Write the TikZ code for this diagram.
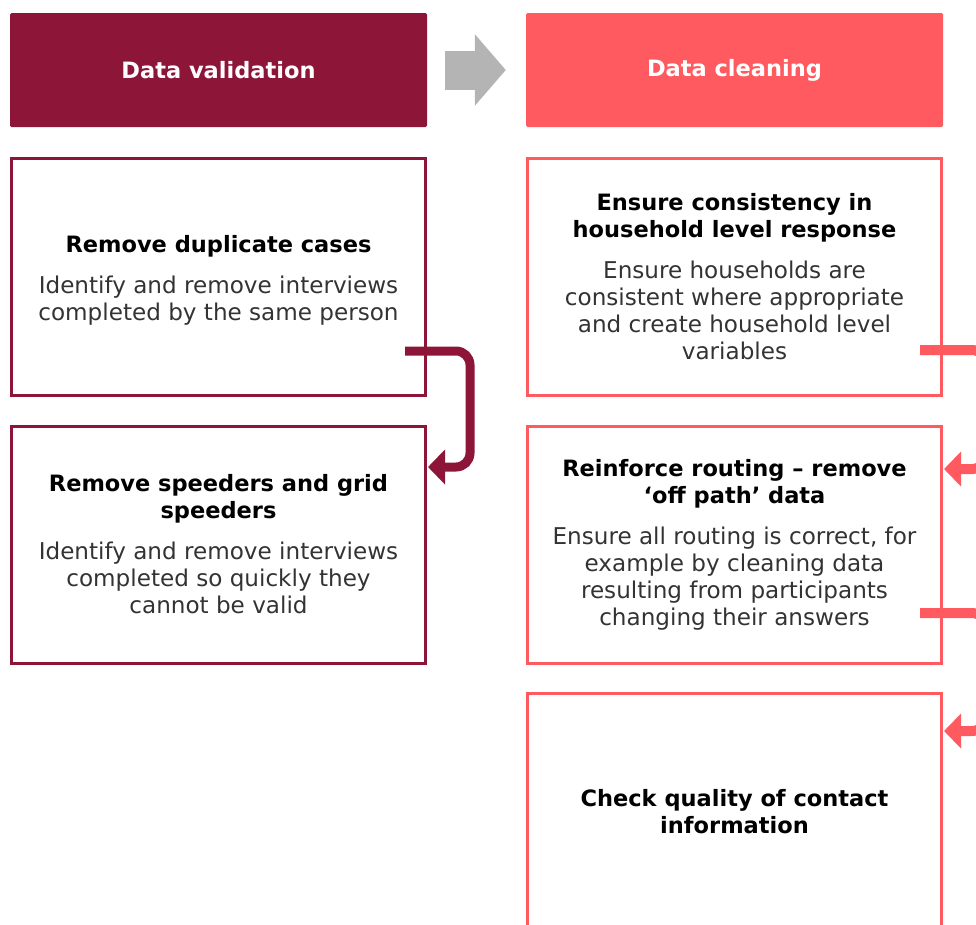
\documentclass[tikz,border=0pt]{standalone}
\usepackage{fontspec}
\setmainfont{DejaVu Sans}
\usetikzlibrary{arrows.meta,positioning}

\definecolor{valred}{HTML}{8C1538}
\definecolor{clnred}{HTML}{FF5A5F}
\definecolor{stepgrey}{HTML}{B4B4B4}
\definecolor{bodygrey}{HTML}{333333}

\newcommand{\bodyfont}{\fontsize{23.1}{27}\selectfont}
\newcommand{\titlefont}{\fontsize{22.5}{27}\selectfont\bfseries}
\newcommand{\tasktitle}[1]{{\titlefont\color{black}#1}}

\tikzstyle{head}=[rectangle,rounded corners=1.5pt,minimum width=417pt,minimum height=114pt,text=white,font=\titlefont]
\tikzstyle{task}=[rectangle,draw,line width=3pt,minimum width=414pt,minimum height=237pt,align=center,inner sep=0pt,text=bodygrey,font=\bodyfont]
\tikzstyle{flow}=[line width=9pt,rounded corners=14pt,-{Triangle[length=17pt,width=34pt]}]

\begin{document}
\begin{tikzpicture}[x=1pt,y=-1pt]

\path[use as bounding box] (0,0) rectangle (976,924);
\clip (0,0) rectangle (976,924);

% headers
\node[head,fill=valred] (valhead) at (218.5,70) {Data validation};
\node[head,fill=clnred] (clnhead) at (734.5,70) {Data cleaning};

\draw[line width=39pt,stepgrey,-{Triangle[length=31pt,width=70pt]}]
  ([xshift=18pt]valhead.east) -- ([xshift=-20pt]clnhead.west);

% data validation
\node[task,draw=valred] (dup) at (218.5,276.5)
  {\mbox{}\\[-2pt]\tasktitle{Remove duplicate cases}\\[14pt]
   Identify and remove interviews\\completed by the same person};
\node[task,draw=valred] (speed) at (218.5,544.5)
  {\tasktitle{Remove speeders and grid}\\\tasktitle{speeders}\\[14pt]
   Identify and remove interviews\\completed so quickly they\\cannot be valid};

% data cleaning
\node[task,draw=clnred] (house) at (734.5,276.5)
  {\tasktitle{Ensure consistency in}\\\tasktitle{household level response}\\[14pt]
   Ensure households are\\consistent where appropriate\\and create household level\\variables};
\node[task,draw=clnred] (route) at (734.5,544.5)
  {\tasktitle{Reinforce routing -- remove}\\\tasktitle{`off path' data}\\[14pt]
   Ensure all routing is correct, for\\example by cleaning data\\resulting from participants\\changing their answers};
\node[task,draw=clnred] (contact) at (734.5,812)
  {\tasktitle{Check quality of contact}\\\tasktitle{information}};

% connectors
\coordinate (dupout) at (405,351);
\coordinate (speedin) at (428,467);
\coordinate (houseout) at (920,350);
\coordinate (routein) at (944,469);
\coordinate (routeout) at (920,613);
\coordinate (contactin) at (944,731);

\draw[flow,valred] (dupout) -- ++(65,0) |- (speedin);
\draw[flow,clnred,line width=10pt] (houseout) -- ++(66,0) |- (routein);
\draw[flow,clnred,line width=10pt] (routeout) -- ++(66,0) |- (contactin);

\end{tikzpicture}
\end{document}
